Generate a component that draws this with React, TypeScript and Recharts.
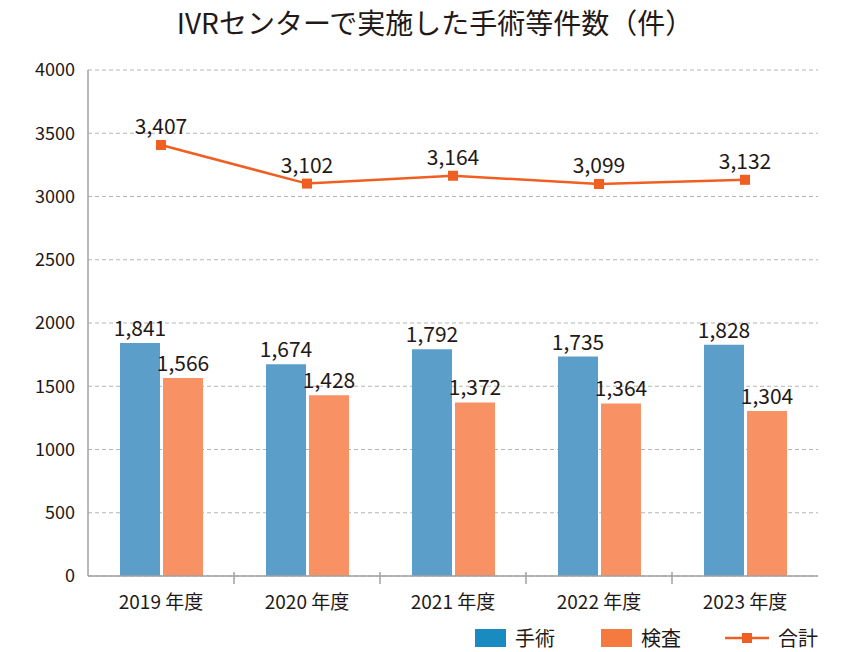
import React from "react"
import { ComposedChart, Bar, Line, XAxis, YAxis, CartesianGrid, LabelList } from "recharts"

const years = ["2019 年度", "2020 年度", "2021 年度", "2022 年度", "2023 年度"];
const surgery = [1841, 1674, 1792, 1735, 1828];
const exams = [1566, 1428, 1372, 1364, 1304];
const totals = [3407, 3102, 3164, 3099, 3132];
const yTicks = [0, 500, 1000, 1500, 2000, 2500, 3000, 3500, 4000];

const blueColor = "#5b9ec9";
const orangeColor = "#f89265";
const lineColor = "#f05f22";
const textColor = "#231815";
const axisColor = "#a0a0a0";
const font = "'Noto Sans CJK JP', 'Noto Sans', sans-serif";

const data = years.map((y, i) => ({ year: y, surgery: surgery[i], exams: exams[i], total: totals[i] }));

const fmt = (v: any) => Number(v).toLocaleString("en-US");

const XTick = (props: any) => {
    const { x, y, payload, index } = props;
    const half = payload && payload.offset ? payload.offset : 73;
    return (
        <g>
            {index > 0 && (
                <line x1={x - half} x2={x - half} y1={y - 12} y2={y} stroke={axisColor} strokeWidth={1.5} />
            )}
            <text x={x} y={y + 25} textAnchor="middle" fill={textColor} fontSize={19} fontFamily={font}>
                {payload.value}
            </text>
        </g>
    );
};

const SquareDot = (props: any) => {
    const { cx, cy } = props;
    if (cx == null || cy == null) return <></>;
    return <rect x={cx - 5} y={cy - 5} width={10} height={10} fill={lineColor} />;
};

const labelStyle = { fill: textColor, fontSize: 21, fontFamily: font };
const legendText: React.CSSProperties = { fontSize: 20, color: textColor, fontFamily: font, marginLeft: 9, lineHeight: "20px" };

export default function App() {
    return (
        <div style={{ position: "absolute", left: 0, top: 0, width: 850, height: 652, background: "#fff" }}>
            <div style={{ position: "absolute", top: 2, left: 10, width: 850, textAlign: "center", fontSize: 28, lineHeight: "40px", color: textColor, fontFamily: font }}>
                IVRセンターで実施した手術等件数（件）
            </div>
            <ComposedChart width={850} height={652} data={data} barSize={40} barGap={3}
                margin={{ top: 70, right: 32, bottom: 46, left: 0 }}>
                <CartesianGrid vertical={false} stroke="#b5b5b5" strokeDasharray="4 3" />
                <XAxis dataKey="year" tick={<XTick />} tickLine={false} axisLine={{ stroke: axisColor, strokeWidth: 1.5 }} interval={0} height={30} />
                <YAxis domain={[0, 4000]} ticks={yTicks} width={88} tickLine={false}
                    axisLine={{ stroke: axisColor, strokeWidth: 1.5 }}
                    tick={{ fill: textColor, fontSize: 18, fontFamily: font }} tickMargin={7} />
                <Bar dataKey="surgery" fill={blueColor} isAnimationActive={false}>
                    <LabelList dataKey="surgery" position="top" offset={7} formatter={fmt} style={labelStyle} />
                </Bar>
                <Bar dataKey="exams" fill={orangeColor} isAnimationActive={false}>
                    <LabelList dataKey="exams" position="top" offset={7} formatter={fmt} style={labelStyle} />
                </Bar>
                <Line dataKey="total" stroke={lineColor} strokeWidth={2.5} dot={<SquareDot />} activeDot={false} isAnimationActive={false}>
                    <LabelList dataKey="total" position="top" offset={11} formatter={fmt} style={labelStyle} />
                </Line>
            </ComposedChart>
            <div style={{ position: "absolute", top: 628, left: 475, display: "flex", alignItems: "center" }}>
                <div style={{ width: 31, height: 18, background: "#1a8bc0" }} />
                <span style={legendText}>手術</span>
                <div style={{ width: 31, height: 18, background: "#f47a40", marginLeft: 46 }} />
                <span style={legendText}>検査</span>
                <svg width={44} height={18} style={{ marginLeft: 44 }}>
                    <line x1={0} x2={44} y1={9} y2={9} stroke={lineColor} strokeWidth={2.5} />
                    <rect x={17} y={4} width={10} height={10} fill={lineColor} />
                </svg>
                <span style={legendText}>合計</span>
            </div>
        </div>
    );
}
